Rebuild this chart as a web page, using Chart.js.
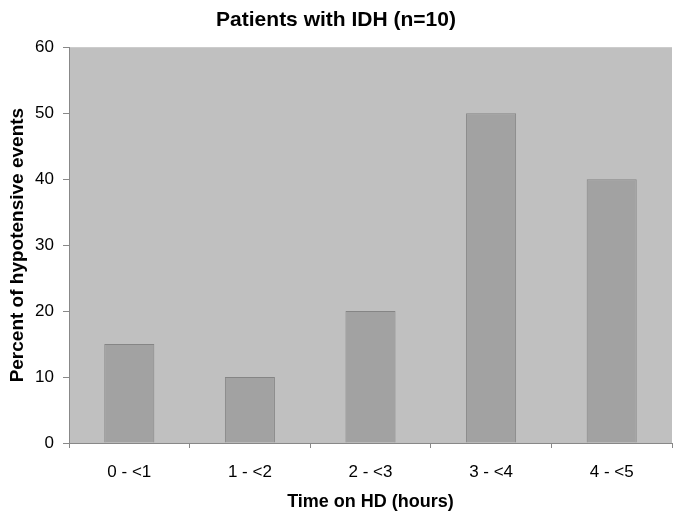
<!DOCTYPE html>
<html>
<head>
<meta charset="utf-8">
<script src="https://cdn.jsdelivr.net/npm/chart.js@4"></script>
<style>
  html, body { margin: 0; padding: 0; background: #fff; }
  #wrap { width: 673px; height: 511px; }
</style>
</head>
<body>
<div id="wrap"><canvas id="grafica"></canvas></div>
<script>
// datos del gráfico
const categorias = ["0 - <1", "1 - <2", "2 - <3", "3 - <4", "4 - <5"];
const porcentajes = [15, 10, 20, 50, 40];
const titulo = "Patients with IDH (n=10)";
const tituloX = "Time on HD (hours)";
const tituloY = "Percent of hypotensive events";

// fondo gris del área de trazado
const fondoArea = {
  id: "fondoArea",
  beforeDraw(chart) {
    const { ctx, chartArea: a } = chart;
    ctx.save();
    ctx.fillStyle = "#c0c0c0";
    ctx.fillRect(a.left, a.top, a.right - a.left, a.bottom - a.top);
    ctx.restore();
  }
};

const fuente = "Arial, 'Liberation Sans', sans-serif";

new Chart(document.getElementById("grafica"), {
  type: "bar",
  data: {
    labels: categorias,
    datasets: [{
      data: porcentajes,
      backgroundColor: "#a2a2a2",
      borderColor: "#858585",
      borderWidth: 1,
      categoryPercentage: 1,
      barPercentage: 0.415
    }]
  },
  options: {
    responsive: true,
    maintainAspectRatio: false,
    animation: false,
    layout: { padding: { left: 0, right: 1, top: 0, bottom: 0 } },
    plugins: {
      legend: { display: false },
      tooltip: { enabled: false },
      title: {
        display: true,
        text: titulo,
        color: "#000",
        font: { family: fuente, size: 21, weight: "bold", lineHeight: 1.2 },
        padding: { top: 8, bottom: 14 }
      }
    },
    scales: {
      x: {
        offset: true,
        grid: {
          offset: true,
          drawOnChartArea: false,
          drawTicks: true,
          tickLength: 5,
          color: "#888"
        },
        border: { color: "#888", width: 1 },
        ticks: {
          color: "#000",
          font: { family: fuente, size: 17 },
          padding: 14
        },
        title: {
          display: true,
          text: tituloX,
          color: "#000",
          font: { family: fuente, size: 18, weight: "bold", lineHeight: 1 },
          padding: 0
        },
        afterFit(scale) { scale.height = 68; }
      },
      y: {
        min: 0,
        max: 60,
        grid: {
          drawOnChartArea: false,
          drawTicks: true,
          tickLength: 6,
          color: "#888"
        },
        border: { color: "#888", width: 1 },
        ticks: {
          stepSize: 10,
          color: "#000",
          font: { family: fuente, size: 17 },
          padding: 9
        },
        title: {
          display: true,
          text: tituloY,
          color: "#000",
          font: { family: fuente, size: 19, weight: "bold", lineHeight: 1 },
          padding: { top: 8, bottom: 0 }
        },
        afterFit(scale) { scale.width = 69; }
      }
    }
  },
  plugins: [fondoArea]
});
</script>
</body>
</html>
